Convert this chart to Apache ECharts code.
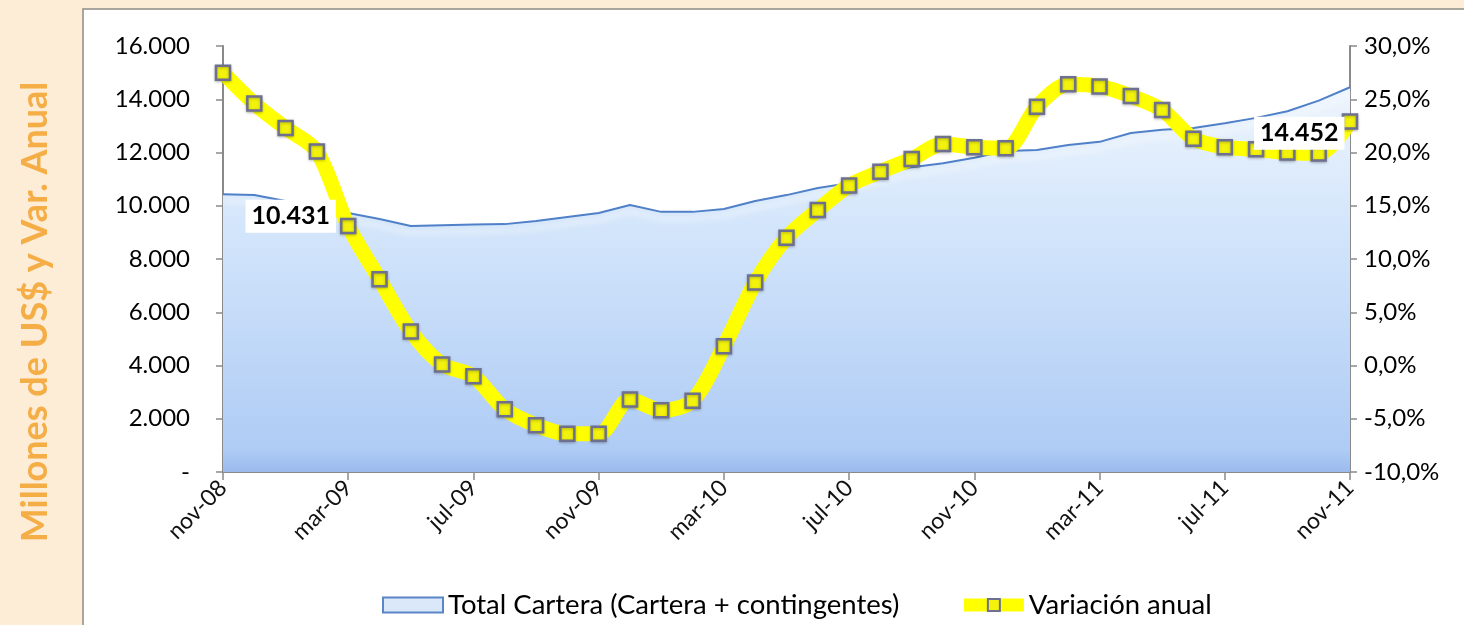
<!DOCTYPE html>
<html>
<head>
<meta charset="utf-8">
<script src="https://cdn.jsdelivr.net/npm/echarts@6/dist/echarts.min.js"></script>
<style>
  html, body { margin: 0; padding: 0; background: #fdecd6; }
  #chart { width: 1464px; height: 625px; }
</style>
</head>
<body>
<div id="chart"></div>
<script>
// nov-08 .. nov-11, monthly
const months = [
  "nov-08", "dic-08", "ene-09", "feb-09", "mar-09", "abr-09", "may-09", "jun-09", "jul-09", "ago-09",
  "sep-09", "oct-09", "nov-09", "dic-09", "ene-10", "feb-10", "mar-10", "abr-10", "may-10", "jun-10",
  "jul-10", "ago-10", "sep-10", "oct-10", "nov-10", "dic-10", "ene-11", "feb-11", "mar-11", "abr-11",
  "may-11", "jun-11", "jul-11", "ago-11", "sep-11", "oct-11", "nov-11",
];
// Millones de US$
const cartera = [
  10431, 10400, 10180, 10070, 9730, 9500, 9240, 9270, 9300, 9310,
  9430, 9580, 9730, 10030, 9770, 9770, 9880, 10180, 10400, 10670,
  10850, 11190, 11450, 11600, 11800, 12060, 12090, 12280, 12400, 12730,
  12850, 12920, 13100, 13300, 13550, 13950, 14452,
];
// variación anual, %
const variacion = [
  27.5, 24.6, 22.3, 20.1, 13.1, 8.1, 3.2, 0.1, -1.0, -4.1,
  -5.6, -6.4, -6.4, -3.2, -4.2, -3.3, 1.8, 7.8, 12.0, 14.6,
  16.9, 18.2, 19.4, 20.8, 20.5, 20.4, 24.3, 26.4, 26.2, 25.3,
  24.0, 21.3, 20.5, 20.3, 20.0, 19.9, 22.9,
];
// the x labels actually printed (every 4th month)
const xTickLabels = ["nov-08", "mar-09", "jul-09", "nov-09", "mar-10", "jul-10", "nov-10", "mar-11", "jul-11", "nov-11"];

const FONT = "Lato, 'Open Sans', sans-serif";
const axisGray = "#8a8a8a";

const fmtMiles = (v) => (v === 0 ? "-" : v.toLocaleString("de-DE"));
const fmtPct = (v) => v.toFixed(1).replace(".", ",") + "%";

const last = cartera.length - 1;
const labelBox = {
  show: true,
  color: "#000",
  fontFamily: FONT,
  fontSize: 25,
  fontWeight: "bold",
  backgroundColor: "#fff",
  padding: [4, 6],
  formatter: (p) => fmtMiles(p.value),
};

const chart = echarts.init(document.getElementById("chart"), null, { renderer: "canvas" });

chart.setOption({
  backgroundColor: "#fdecd6",
  animation: false,
  textStyle: { fontFamily: FONT },
  graphic: [
    {
      type: "rect",
      z: -10,
      shape: { x: 83, y: 9, width: 1400, height: 630 },
      style: { fill: "#ffffff", stroke: "#8c8c84", lineWidth: 1.5 },
    },
    {
      type: "text",
      x: 35,
      y: 312,
      rotation: Math.PI / 2,
      style: {
        text: "Millones de US$ y Var. Anual",
        fill: "#f5ad46",
        font: "bold 36px " + FONT,
        align: "center",
        verticalAlign: "middle",
      },
    },
  ],
  grid: { left: 223, right: 114, top: 46, bottom: 153 },
  legend: {
    left: 377,
    top: 586,
    itemGap: 58,
    itemWidth: 60,
    itemHeight: 15,
    textStyle: { fontFamily: FONT, fontSize: 27.5, color: "#000" },
    data: [
      { name: "Total Cartera (Cartera + contingentes)", icon: "rect",
        itemStyle: { color: "#dbe8fa", borderColor: "#5a86c6", borderWidth: 2 } },
      { name: "Variación anual", lineStyle: { color: "#ffff00", width: 13 } },
    ],
  },
  xAxis: {
    type: "category",
    data: months,
    boundaryGap: false,
    axisLine: { lineStyle: { color: axisGray, width: 2 } },
    axisTick: { interval: 3, length: 8, lineStyle: { color: axisGray, width: 1.5 } },
    axisLabel: {
      interval: 3,
      rotate: 45,
      margin: 12,
      color: "#111",
      fontSize: 23,
      fontFamily: FONT,
      formatter: (v) => (xTickLabels.includes(v) ? v : ""),
    },
    splitLine: { show: false },
  },
  yAxis: [
    {
      type: "value",
      min: 0,
      max: 16000,
      interval: 2000,
      axisLine: { show: true, lineStyle: { color: axisGray, width: 2 } },
      axisTick: { show: true, inside: false, length: 7, lineStyle: { color: axisGray, width: 1.5 } },
      axisLabel: { margin: 33, color: "#000", fontSize: 24, fontFamily: FONT, formatter: fmtMiles },
      splitLine: { show: false },
    },
    {
      type: "value",
      min: -10,
      max: 30,
      interval: 5,
      axisLine: { show: true, lineStyle: { color: axisGray, width: 2 } },
      axisTick: { show: true, length: 7, lineStyle: { color: axisGray, width: 1.5 } },
      axisLabel: { margin: 14, color: "#000", fontSize: 24, fontFamily: FONT, formatter: fmtPct },
      splitLine: { show: false },
    },
  ],
  series: [
    {
      name: "Total Cartera (Cartera + contingentes)",
      type: "line",
      yAxisIndex: 0,
      data: cartera,
      symbol: "none",
      z: 2,
      lineStyle: {
        color: "#4f80c8",
        width: 2,
        shadowColor: "rgba(255,255,255,0.95)",
        shadowBlur: 6,
        shadowOffsetY: 7,
      },
      itemStyle: { color: "#c7dcf7" },
      areaStyle: {
        color: {
          type: "linear", x: 0, y: 0, x2: 0, y2: 1,
          colorStops: [
            { offset: 0, color: "#eef5fd" },
            { offset: 0.35, color: "#d4e6fb" },
            { offset: 0.94, color: "#afccf5" },
            { offset: 1, color: "#9bbbed" },
          ],
        },
        opacity: 1,
      },
    },
    {
      name: "Variación anual",
      type: "line",
      yAxisIndex: 1,
      data: variacion,
      smooth: 0.3,
      z: 3,
      symbol: "rect",
      symbolSize: 14,
      lineStyle: { color: "#ffff00", width: 15 },
      itemStyle: {
        color: "#f2f20c",
        borderColor: "#6e7090",
        borderWidth: 2.5,
        shadowColor: "rgba(0,0,0,0.25)",
        shadowBlur: 3,
        shadowOffsetY: 1,
      },
    },
    {
      // endpoint value boxes, drawn above the yellow line
      name: "etiquetas",
      type: "line",
      yAxisIndex: 0,
      z: 10,
      symbol: "circle",
      symbolSize: 1,
      showSymbol: true,
      itemStyle: { color: "transparent" },
      lineStyle: { opacity: 0 },
      silent: true,
      data: cartera.map((v, i) => {
        if (i === 0) return { value: v, label: { ...labelBox, position: "right", distance: 22, offset: [0, 22] } };
        if (i === last) return { value: v, label: { ...labelBox, position: "left", distance: 5, offset: [0, 46] } };
        return v;
      }),
    },
  ],
});
</script>
</body>
</html>
